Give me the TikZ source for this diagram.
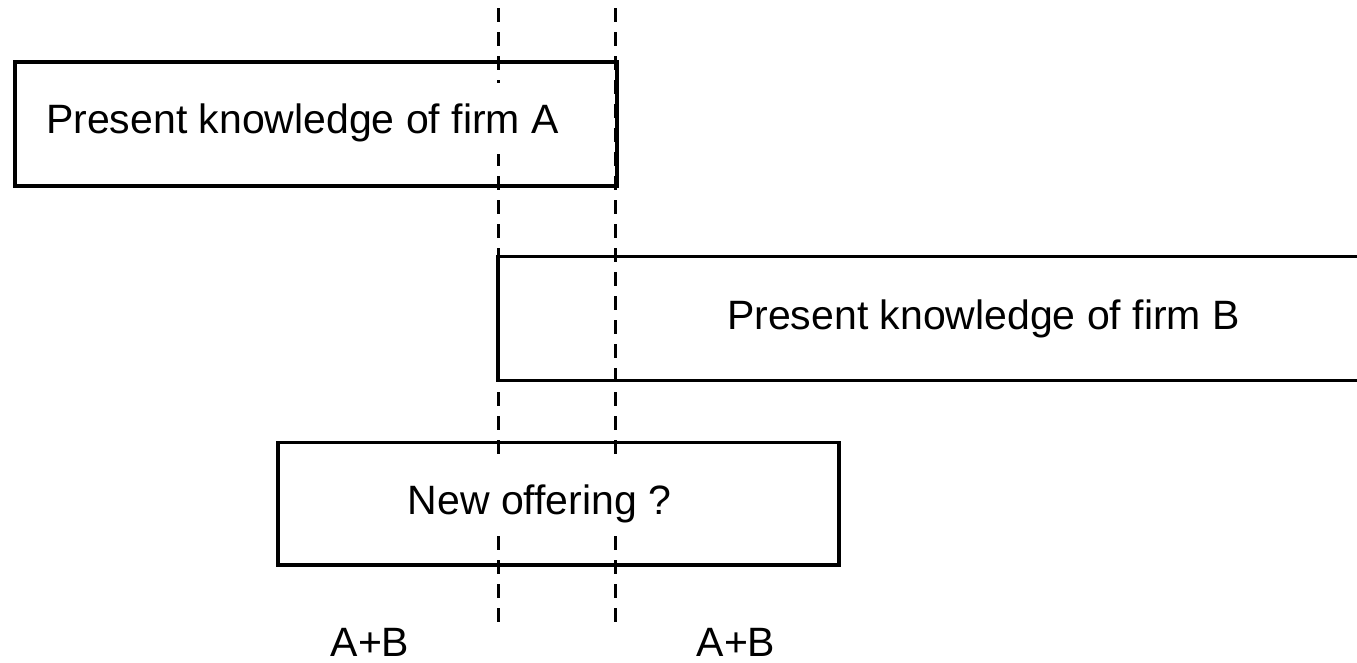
\documentclass[tikz,border=0pt]{standalone}
\usepackage{fontspec}
\setmainfont{Liberation Sans}
\begin{document}
\begin{tikzpicture}[x=1pt,y=-1pt,
  boxline/.style={line width=3.6pt},
  boxnode/.style={boxline, draw, rectangle, inner sep=0pt, anchor=north west},
  label/.style={font=\fontsize{41}{48}\selectfont, inner sep=0pt, anchor=base},
  masked/.style={label, fill=white, text height=38pt, text depth=9pt, inner ysep=12pt, inner xsep=4pt},
  guide/.style={line width=3pt, dash pattern=on 14pt off 10pt}]
\useasboundingbox (0,0) rectangle (1357,662);
% guide lines
\coordinate (g1t) at (498,8);
\coordinate (g1b) at (498,624);
\coordinate (g2t) at (615,8);
\coordinate (g2b) at (615,624);
\draw[guide] (g1t) -- (g1b);
\draw[guide] (g2t) -- (g2b);
% box A
\node[boxnode, minimum width=602pt, minimum height=124pt] (boxA) at (13,60) {};
\node[masked] (txtA) at (302.5,133) {Present knowledge of firm A};
% box B (open on the right)
\coordinate (bBtr) at (1362,256.5);
\coordinate (bBtl) at (498,256.5);
\coordinate (bBbl) at (498,380.5);
\coordinate (bBbr) at (1362,380.5);
\draw[boxline] (bBtr) -- (bBtl) -- (bBbl) -- (bBbr);
\node[masked] (txtB) at (983.5,329) {Present knowledge of firm B};
% box C
\node[boxnode, minimum width=561pt, minimum height=122.5pt] (boxC) at (276,440.5) {};
\node[masked] (txtC) at (539.5,514) {New offering ?};
% labels
\node[label] (ab1) at (370,656) {A+B};
\node[label] (ab2) at (736,656) {A+B};
\end{tikzpicture}
\end{document}
